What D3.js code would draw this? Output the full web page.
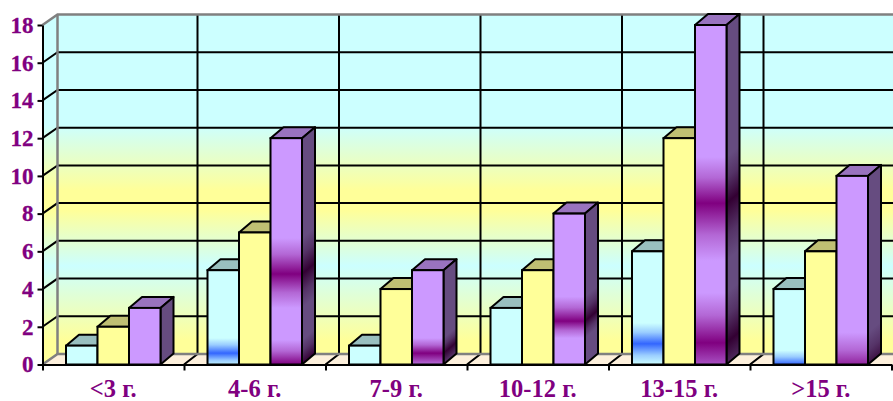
<!DOCTYPE html>
<html>
<head>
<meta charset="utf-8">
<script src="https://cdn.jsdelivr.net/npm/d3@7"></script>
<style>
  html, body { margin: 0; padding: 0; background: #fff; overflow: hidden; }
  svg { display: block; }
  text { font-family: "Liberation Serif", serif; font-weight: bold; fill: #800080; }
</style>
</head>
<body>
<div id="chart"></div>
<script>
const categories = ['<3 г.', '4-6 г.', '7-9 г.', '10-12 г.', '13-15 г.', '>15 г.']
const seriesNames = ['first', 'second', 'third']
const firstValues = [1, 5, 1, 3, 6, 4]
const secondValues = [2, 7, 4, 5, 12, 6]
const thirdValues = [3, 12, 5, 8, 18, 10]
const valueTicks = [0, 2, 4, 6, 8, 10, 12, 14, 16, 18]

/* dark bands painted on the bars, [start, peak, end] in axis units */
const firstBands = [[], [[1.4, 0.6, -0.1]], [], [], [[2.2, 1.1, 0]], [[0.75, 0, -0.8]]]
const thirdBands = [
  [],
  [[6.7, 4.8, 3], [1.3, 0, -1.3]],
  [[1.4, 0.6, -0.4]],
  [[3.6, 2.3, 1.4]],
  [[11, 8.55, 5.5], [3.8, 1.15, -1.5]],
  [[1.7, -0.4, -3]]
]

const width = 893
const height = 401

/* ----------  COLOURS  ---------- */
const looks = {
  first: {front: '#ccffff', top: '#99bfbf', side: '#80a0a0', band: '#3366ff', sideBand: '#1a3380'},
  second: {front: '#ffff99', top: '#bfbf73', side: '#a0a060', band: '#ffff99', sideBand: '#a0a060'},
  third: {front: '#cc99ff', top: '#9973bf', side: '#664c80', band: '#800080', sideBand: '#330033'}
}
const seriesValues = {first: firstValues, second: secondValues, third: thirdValues}
const seriesBands = {first: firstBands, second: categories.map(() => []), third: thirdBands}

/* ----------  SCALES  ---------- */
const plotLeft = 42.5
const plotRight = 891.5
const wallX = 15
const wallY = 10.5
const gridDepthX = 13.5 // vertical gridlines land a bit left of the wall edge
const barDepthX = 13
const barDepthY = 11

const y = d3.scaleLinear().domain([0, 18]).range([364.5, 25])
const x = d3.scaleBand().domain(categories).range([plotLeft, plotRight])
const xTicks = d3.scaleLinear().domain([0, categories.length]).range([plotLeft, plotRight])
const xInner = d3.scaleBand().domain(seriesNames).range([23.5, 118])

const svg = d3.select('#chart').append('svg')
  .attr('width', width)
  .attr('height', height)

const defs = svg.append('defs')

/* ----------  WALL GRADIENT  ---------- */
const wallGrad = defs.append('linearGradient')
  .attr('id', 'wallGrad')
  .attr('gradientUnits', 'userSpaceOnUse')
  .attr('x1', 0).attr('x2', 0)
  .attr('y1', y(18) - wallY).attr('y2', y(0) - wallY)
const wallStops = [
  [0, '#ccffff'], [0.325, '#ccffff'], [0.518, '#ffff99'], [0.577, '#ffff99'],
  [0.74, '#ccffff'], [0.96, '#ffff99'], [1, '#ffff99']
]
wallStops.forEach(s => wallGrad.append('stop').attr('offset', s[0]).attr('stop-color', s[1]))

/* ----------  WALLS & FLOOR  ---------- */
const line = d3.line()
const topY = y(18)
const baseY = y(0)

svg.append('path')
  .attr('d', line([[plotLeft, topY], [plotLeft + wallX, topY - wallY], [plotLeft + wallX, baseY - wallY], [plotLeft, baseY]]) + 'Z')
  .attr('fill', 'url(#wallGrad)')
svg.append('rect')
  .attr('x', plotLeft + wallX).attr('y', topY - wallY)
  .attr('width', width - plotLeft - wallX).attr('height', baseY - topY)
  .attr('fill', 'url(#wallGrad)')
svg.append('path')
  .attr('d', line([[plotLeft, baseY], [plotLeft + wallX, baseY - wallY], [width + 20, baseY - wallY], [width + 5, baseY]]) + 'Z')
  .attr('fill', '#fdf0dc')

/* gridlines on the wall */
valueTicks.filter(v => v > 0 && v < 18).forEach(v => {
  svg.append('path')
    .attr('d', line([[plotLeft, y(v)], [plotLeft + wallX, y(v) - wallY], [width, y(v) - wallY]]))
    .attr('fill', 'none')
    .attr('stroke', '#000')
    .attr('stroke-width', 2)
})
d3.range(1, categories.length).forEach(i => {
  svg.append('path')
    .attr('d', line([[xTicks(i), baseY], [xTicks(i) + gridDepthX, baseY - wallY], [xTicks(i) + gridDepthX, topY - wallY]]))
    .attr('fill', 'none')
    .attr('stroke', '#000')
    .attr('stroke-width', 2)
})

/* grey frame of the wall */
svg.append('path')
  .attr('d', line([[plotLeft, topY], [plotLeft + wallX, topY - wallY], [width, topY - wallY]]))
  .attr('fill', 'none').attr('stroke', '#808080').attr('stroke-width', 2.5)
svg.append('path')
  .attr('d', line([[plotLeft + wallX, topY - wallY], [plotLeft + wallX, baseY - wallY]]))
  .attr('fill', 'none').attr('stroke', '#808080').attr('stroke-width', 2.5)
svg.append('path')
  .attr('d', line([[plotLeft, baseY], [plotLeft + wallX, baseY - wallY], [width, baseY - wallY]]))
  .attr('fill', 'none').attr('stroke', '#808080').attr('stroke-width', 2.5)

/* ----------  BAR GRADIENTS  ---------- */
// gradient runs in user space from 18 down to -3 so a band can fall below the floor
const bandOffset = v => (18 - v) / 21

function bandGradient (id, plain, dark, bands) {
  const grad = defs.append('linearGradient')
    .attr('id', id)
    .attr('gradientUnits', 'userSpaceOnUse')
    .attr('x1', 0).attr('x2', 0)
    .attr('y1', y(18)).attr('y2', y(-3))
  const soft = d3.interpolateRgb(plain, dark)(0.33)
  const addStop = (v, c) => grad.append('stop').attr('offset', bandOffset(v)).attr('stop-color', c)
  bands.forEach(b => {
    addStop(b[0], plain)
    addStop((b[0] + b[1]) / 2 + (b[0] - b[1]) * 0.05, soft)
    addStop(b[1], dark)
    addStop((b[1] + b[2]) / 2 - (b[1] - b[2]) * 0.05, soft)
    addStop(b[2], plain)
  })
}

/* ----------  BARS  ---------- */
categories.forEach((cat, c) => {
  seriesNames.forEach(name => {
    const v = seriesValues[name][c]
    const look = looks[name]
    const bands = seriesBands[name][c]
    const x0 = x(cat) + xInner(name)
    const x1 = x0 + xInner.bandwidth()
    const yTop = y(v)

    let frontFill = look.front
    let sideFill = look.side
    if (bands.length) {
      bandGradient(`front_${name}_${c}`, look.front, look.band, bands)
      bandGradient(`side_${name}_${c}`, look.side, look.sideBand, bands)
      frontFill = `url(#front_${name}_${c})`
      sideFill = `url(#side_${name}_${c})`
    }

    const bar = svg.append('g')

    /* top face */
    bar.append('path')
      .attr('d', line([[x0, yTop], [x0 + barDepthX, yTop - barDepthY], [x1 + barDepthX, yTop - barDepthY], [x1, yTop]]) + 'Z')
      .attr('fill', look.top)
      .attr('stroke', '#000').attr('stroke-width', 2).attr('stroke-linejoin', 'round')

    /* side face, sheared so the gradient follows the depth */
    bar.append('rect')
      .attr('transform', `translate(${x1},0) skewY(${-Math.atan(barDepthY / barDepthX) * 180 / Math.PI})`)
      .attr('x', 0).attr('y', yTop)
      .attr('width', barDepthX).attr('height', baseY - yTop)
      .attr('fill', sideFill)
    bar.append('path')
      .attr('d', line([[x1, yTop], [x1 + barDepthX, yTop - barDepthY], [x1 + barDepthX, baseY - barDepthY], [x1, baseY]]) + 'Z')
      .attr('fill', 'none')
      .attr('stroke', '#000').attr('stroke-width', 2).attr('stroke-linejoin', 'round')

    /* front face */
    bar.append('rect')
      .attr('x', x0).attr('y', yTop)
      .attr('width', x1 - x0).attr('height', baseY - yTop)
      .attr('fill', frontFill)
      .attr('stroke', '#000').attr('stroke-width', 2)
  })
})

/* ----------  AXES  ---------- */
const yAxis = svg.append('g')
  .attr('transform', `translate(${plotLeft},0)`)
  .call(d3.axisLeft(y).tickValues(valueTicks).tickSize(5).tickPadding(4).tickSizeOuter(0))
yAxis.selectAll('text').style('font-size', '23px').attr('stroke', '#800080').attr('stroke-width', 0.3)
yAxis.selectAll('line').attr('stroke-width', 2)
yAxis.select('.domain').attr('stroke-width', 2)

const xAxisTicks = svg.append('g')
  .attr('transform', `translate(0,${baseY})`)
  .call(d3.axisBottom(xTicks).tickValues(d3.range(0, categories.length + 1)).tickFormat('').tickSize(6).tickSizeOuter(0))
xAxisTicks.selectAll('line').attr('stroke-width', 2)
xAxisTicks.select('.domain').attr('stroke-width', 2)

const xAxisLabels = svg.append('g')
  .attr('transform', `translate(0,${baseY})`)
  .call(d3.axisBottom(x).tickSize(0).tickPadding(15))
xAxisLabels.select('.domain').remove()
xAxisLabels.selectAll('text').style('font-size', '24.5px')
</script>
</body>
</html>
